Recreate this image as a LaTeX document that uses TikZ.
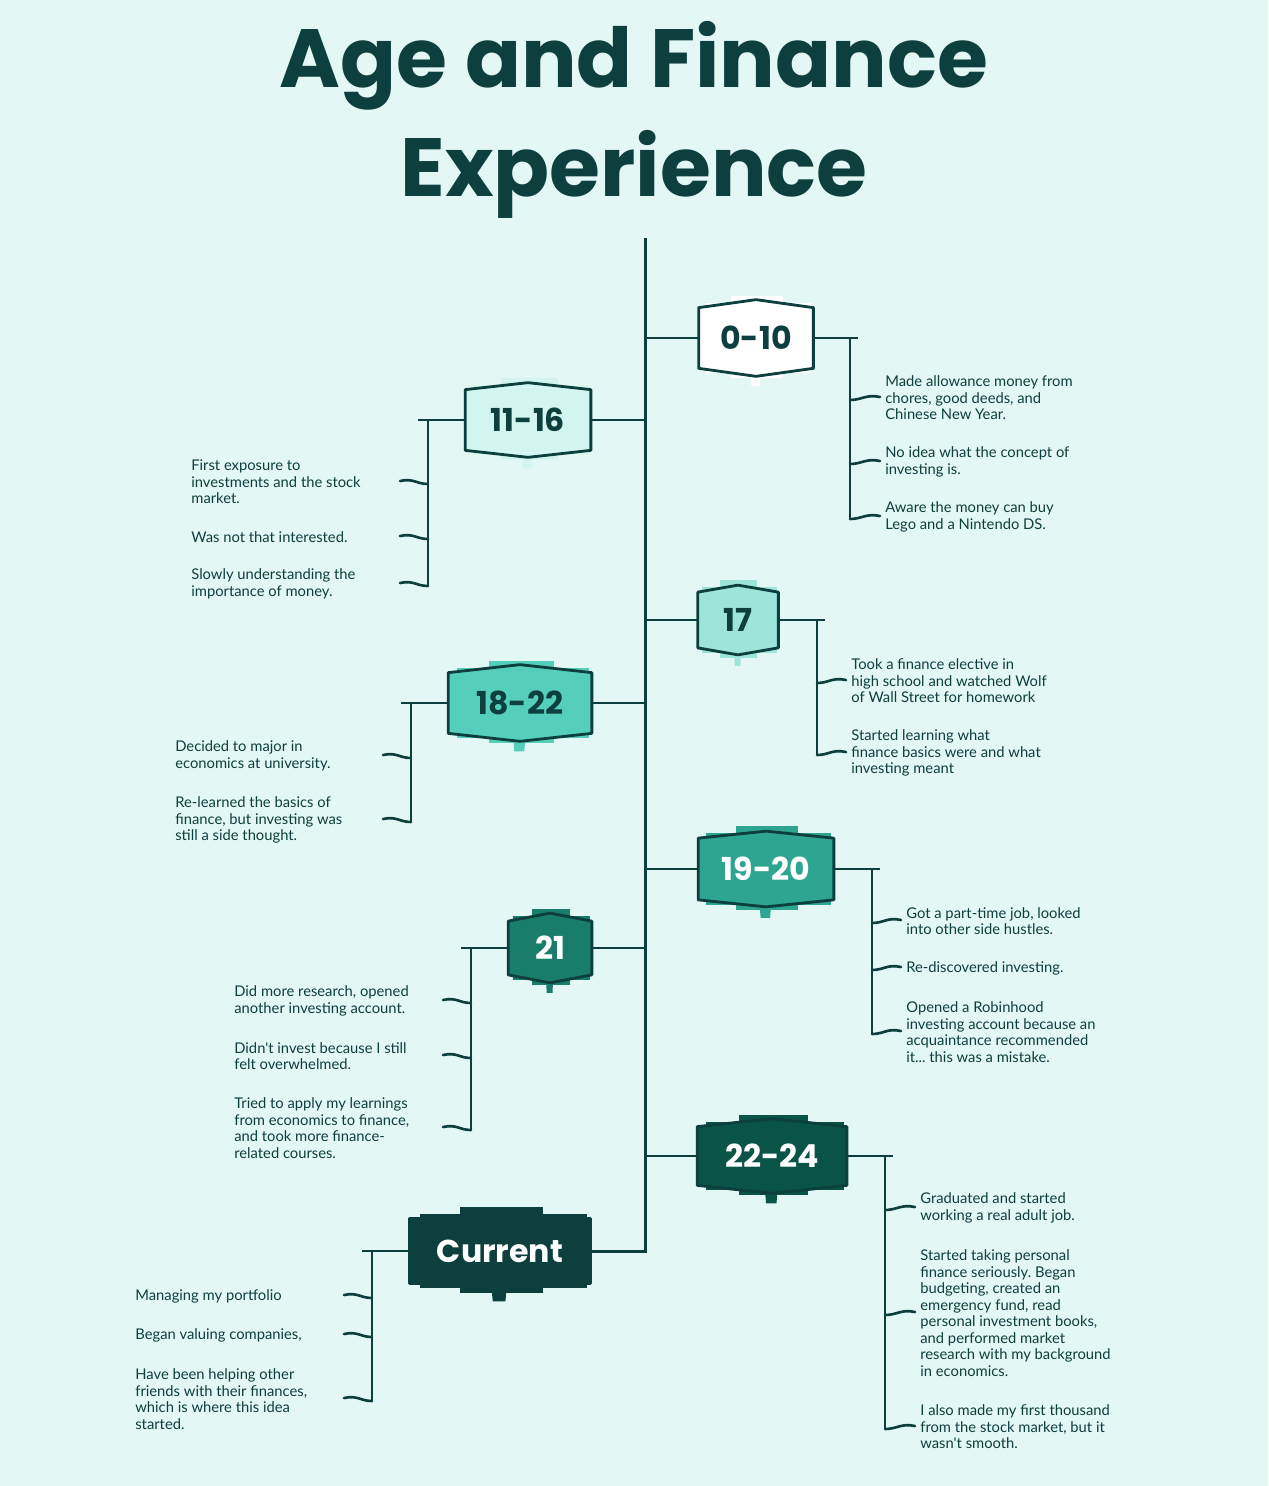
\documentclass[tikz,border=0pt]{standalone}
\usepackage{fontspec}
\usetikzlibrary{calc}

\newfontfamily\titlefont{Poppins}
\newfontfamily\bodyfont{Lato}
\frenchspacing

\definecolor{bgcol}{HTML}{E3F7F5}
\definecolor{ink}{HTML}{0C3F3E}
\definecolor{tintA}{HTML}{FFFFFF}
\definecolor{tintB}{HTML}{D3F5EF}
\definecolor{tintC}{HTML}{9DE5D8}
\definecolor{tintD}{HTML}{55CFBB}
\definecolor{tintE}{HTML}{2EA590}
\definecolor{tintF}{HTML}{1A7C6B}
\definecolor{tintG}{HTML}{0A5347}
\definecolor{tintH}{HTML}{0C3F3E}

\pgfdeclarelayer{paper}
\pgfdeclarelayer{boxes}
\pgfsetlayers{paper,boxes,main}

\newcommand{\pxu}{0.02cm}
% age box: name, centre, width, height, point, fill, text colour, label
\newcommand{\agebox}[8]{%
  \node[agelabel, text=#7, minimum width=#3*\pxu, minimum height=#4*\pxu] (#1) at (#2) {#8};
  \begin{pgfonlayer}{boxes}
    \fill[#6] ($(#1.north)+(-0.22*#3,-12)$) rectangle ($(#1.south)+(0.24*#3,10)$);
    \fill[#6] ($(#1.north west)+(0.06*#3,-5)$) rectangle ($(#1.south east)+(-0.02*#3,5)$);
    \fill[#6] ($(#1.south)+(-0.05*#3,0)$) -- ++(0.09*#3,0) -- ++(-0.01*#3,18) -- ++(-0.07*#3,0) -- cycle;
    \filldraw[boxedge, fill=#6] (#1.north west) -- ($(#1.north)+(0,-#5)$) -- (#1.north east)
      -- (#1.south east) -- ($(#1.south)+(0,#5)$) -- (#1.south west) -- cycle;
  \end{pgfonlayer}}
\newcommand{\tickright}[2]{\draw[tick] ($(#1 |- #2.west)+(0,2)$) .. controls +(12,0) and +(-14,-3) .. ($(#2.west)+(-5,-1)$);}
\newcommand{\tickleft}[2]{\draw[tick] ($(#1 |- #2.west)+(0,2)$) .. controls +(-12,0) and +(14,-3) .. ($(#1 |- #2.west)+(-28,-1)$);}

\tikzset{
  agelabel/.style={font=\titlefont\bfseries\fontsize{18}{20}\selectfont, inner sep=0pt},
  boxedge/.style={draw=ink, line width=1.6pt, line join=round},
  spine/.style={draw=ink, line width=1.7pt},
  branch/.style={draw=ink, line width=1.1pt},
  bracket/.style={draw=ink, line width=1.6pt},
  tick/.style={draw=ink, line width=1.5pt, line cap=round},
  item/.style={font=\bodyfont\fontsize{8.4}{9.4}\selectfont, text=ink, align=left, inner sep=0pt, anchor=west},
}

\begin{document}
\begin{tikzpicture}[x=0.02cm, y=-0.02cm]
\begin{pgfonlayer}{paper}
  \fill[bgcol] (0,0) rectangle (1268,1486);
\end{pgfonlayer}
\useasboundingbox (0,0) rectangle (1268,1486);

\node[font=\titlefont\bfseries\fontsize{47}{62}\selectfont, text=ink, align=center] (title) at (634,120) {Age and Finance\\Experience};

% spine
\coordinate (spinetop) at (645,238);
\coordinate (spinebot) at (645,1251);

% boxes
\agebox{b0}{756,338}{114}{60}{8}{tintA}{ink}{0-10}
\agebox{b11}{528,420}{125}{60}{7}{tintB}{ink}{11-16}
\agebox{b17}{738,620}{80}{55}{7}{tintC}{ink}{17}
\agebox{b18}{520,703}{143}{60}{8}{tintD}{ink}{18-22}
\agebox{b19}{766,869}{135}{61}{7}{tintE}{white}{19-20}
\agebox{b21}{550,948}{83}{53}{8}{tintF}{white}{21}
\agebox{b22}{772,1156}{149}{58}{8}{tintG}{white}{22-24}
\agebox{bnow}{500,1251}{180}{64}{0}{tintH}{white}{Current}

\draw[spine] (spinetop) -- (spinebot) -- (bnow.east);
\draw[branch] (b0.west) -- (b0.west -| spinetop);
\draw[branch] (b11.east) -- (b11.east -| spinetop);
\draw[branch] (b17.west) -- (b17.west -| spinetop);
\draw[branch] (b18.east) -- (b18.east -| spinetop);
\draw[branch] (b19.west) -- (b19.west -| spinetop);
\draw[branch] (b21.east) -- (b21.east -| spinetop);
\draw[branch] (b22.west) -- (b22.west -| spinetop);

% 0-10
\node[item] (b0t1) at (885,398) {Made allowance money from\\chores, good deeds, and\\Chinese New Year.};
\node[item] (b0t2) at (885,462) {No idea what the concept of\\investing is.};
\node[item] (b0t3) at (885,517) {Aware the money can buy\\Lego and a Nintendo DS.};
\coordinate (b0k) at (850,338);
\draw[branch] (b0.east) -- ($(b0k)+(8,0)$);
\draw[bracket] (b0k) -- ($(b0k |- b0t3.west)+(0,2)$);
\tickright{b0k}{b0t1}
\tickright{b0k}{b0t2}
\tickright{b0k}{b0t3}

% 11-16
\node[item] (b11t1) at (191,482) {First exposure to\\investments and the stock\\market.};
\node[item] (b11t2) at (191,537) {Was not that interested.};
\node[item] (b11t3) at (191,584) {Slowly understanding the\\importance of money.};
\coordinate (b11k) at (428,420);
\draw[branch] (b11.west) -- ($(b11k)+(-10,0)$);
\draw[bracket] (b11k) -- ($(b11k |- b11t3.west)+(0,2)$);
\tickleft{b11k}{b11t1}
\tickleft{b11k}{b11t2}
\tickleft{b11k}{b11t3}

% 17
\node[item] (b17t1) at (851,681) {Took a finance elective in\\high school and watched Wolf\\of Wall Street for homework};
\node[item] (b17t2) at (851,753) {Started learning what\\finance basics were and what\\investing meant};
\coordinate (b17k) at (817,620);
\draw[branch] (b17.east) -- ($(b17k)+(8,0)$);
\draw[bracket] (b17k) -- ($(b17k |- b17t2.west)+(0,2)$);
\tickright{b17k}{b17t1}
\tickright{b17k}{b17t2}

% 18-22
\node[item] (b18t1) at (175,756) {Decided to major in\\economics at university.};
\node[item] (b18t2) at (175,820) {Re-learned the basics of\\finance, but investing was\\still a side thought.};
\coordinate (b18k) at (411,703);
\draw[branch] (b18.west) -- ($(b18k)+(-10,0)$);
\draw[bracket] (b18k) -- ($(b18k |- b18t2.west)+(0,2)$);
\tickleft{b18k}{b18t1}
\tickleft{b18k}{b18t2}

% 19-20
\node[item] (b19t1) at (906,921) {Got a part-time job, looked\\into other side hustles.};
\node[item] (b19t2) at (906,968) {Re-discovered investing.};
\node[item] (b19t3) at (906,1032) {Opened a Robinhood\\investing account because an\\acquaintance recommended\\it... this was a mistake.};
\coordinate (b19k) at (872,869);
\draw[branch] (b19.east) -- ($(b19k)+(8,0)$);
\draw[bracket] (b19k) -- ($(b19k |- b19t3.west)+(0,2)$);
\tickright{b19k}{b19t1}
\tickright{b19k}{b19t2}
\tickright{b19k}{b19t3}

% 21
\node[item] (b21t1) at (234,1001) {Did more research, opened\\another investing account.};
\node[item] (b21t2) at (234,1056) {Didn't invest because I still\\felt overwhelmed.};
\node[item] (b21t3) at (234,1128) {Tried to apply my learnings\\from economics to finance,\\and took more finance-\\related courses.};
\coordinate (b21k) at (471,948);
\draw[branch] (b21.west) -- ($(b21k)+(-10,0)$);
\draw[bracket] (b21k) -- ($(b21k |- b21t3.west)+(0,2)$);
\tickleft{b21k}{b21t1}
\tickleft{b21k}{b21t2}
\tickleft{b21k}{b21t3}

% 22-24
\node[item] (b22t1) at (920,1208) {Graduated and started\\working a real adult job.};
\node[item] (b22t2) at (920,1313) {Started taking personal\\finance seriously. Began\\budgeting, created an\\emergency fund, read\\personal investment books,\\and performed market\\research with my background\\in economics.};
\node[item] (b22t3) at (920,1427) {I also made my first thousand\\from the stock market, but it\\wasn't smooth.};
\coordinate (b22k) at (885,1156);
\draw[branch] (b22.east) -- ($(b22k)+(8,0)$);
\draw[bracket] (b22k) -- ($(b22k |- b22t3.west)+(0,2)$);
\tickright{b22k}{b22t1}
\tickright{b22k}{b22t2}
\tickright{b22k}{b22t3}

% current
\node[item] (bnowt1) at (135,1296) {Managing my portfolio};
\node[item] (bnowt2) at (135,1335) {Began valuing companies,};
\node[item] (bnowt3) at (135,1399) {Have been helping other\\friends with their finances,\\which is where this idea\\started.};
\coordinate (bnowk) at (372,1251);
\draw[branch] (bnow.west) -- ($(bnowk)+(-10,0)$);
\draw[bracket] (bnowk) -- ($(bnowk |- bnowt3.west)+(0,2)$);
\tickleft{bnowk}{bnowt1}
\tickleft{bnowk}{bnowt2}
\tickleft{bnowk}{bnowt3}
\end{tikzpicture}
\end{document}
